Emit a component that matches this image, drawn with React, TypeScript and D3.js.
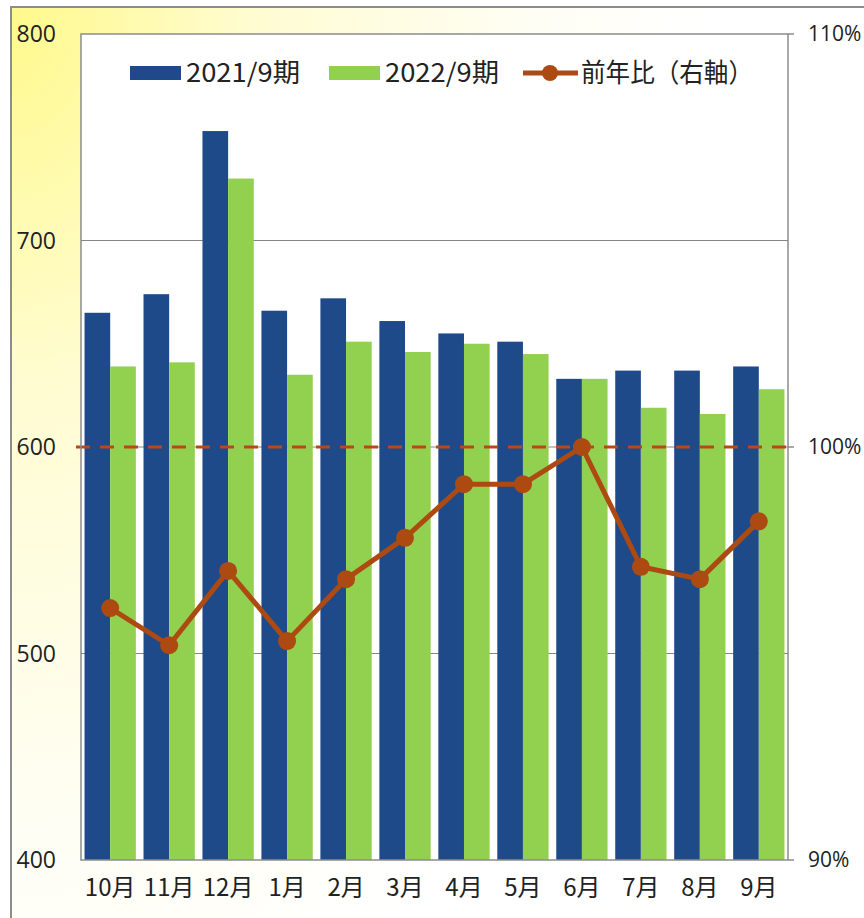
import React from "react";
import * as d3 from "d3";

const months = ["10月", "11月", "12月", "1月", "2月", "3月", "4月", "5月", "6月", "7月", "8月", "9月"];
const series2021 = [665, 674, 753, 666, 672, 661, 655, 651, 633, 637, 637, 639];
const series2022 = [639, 641, 730, 635, 651, 646, 650, 645, 633, 619, 616, 628];
const ratio = [96.1, 95.2, 97.0, 95.3, 96.8, 97.8, 99.1, 99.1, 100.0, 97.1, 96.8, 98.2];
const leftTicks = [400, 500, 600, 700, 800];
const rightTicks = [90, 100, 110];
const seriesNames = ["2021/9期", "2022/9期", "前年比（右軸）"];

const W = 864;
const H = 918;
const plot = { left: 81, right: 788, top: 34, bottom: 860 };
const BLUE = "#1F4A8A";
const GREEN = "#92D050";
const LINE = "#AC4A12";
const DASH = "#B8471A";
const FONT = "'Open Sans', 'Noto Sans CJK JP', sans-serif";
const JFONT = "'Noto Sans CJK JP', 'Open Sans', sans-serif";

export default function App() {
  const x = d3.scaleBand<string>().domain(months).range([plot.left, plot.right]).paddingInner(0.13).paddingOuter(0.06);
  const sub = d3.scaleBand<string>().domain(["a", "b"]).range([0, x.bandwidth()]).padding(0);
  const yL = d3.scaleLinear().domain([400, 800]).range([plot.bottom, plot.top]);
  const yR = d3.scaleLinear().domain([90, 110]).range([plot.bottom, plot.top]);
  const cx = (m: string) => (x(m) as number) + x.bandwidth() / 2;
  const line = d3.line<number>().x((_, i) => cx(months[i])).y((d) => yR(d));

  return (
    <svg width={W} height={H} style={{ position: "absolute", left: 0, top: 0 }} fontFamily={FONT}>
      <defs>
        <radialGradient id="bg" cx="0" cy="0" r="1" gradientUnits="userSpaceOnUse" gradientTransform="translate(11,7) scale(700,1100)">
          <stop offset="0" stopColor="#FFF98A" />
          <stop offset="0.35" stopColor="#FFFCD2" />
          <stop offset="0.75" stopColor="#FFFEF4" />
          <stop offset="1" stopColor="#FFFFFF" />
        </radialGradient>
      </defs>
      <rect x={0} y={0} width={W} height={H} fill="#fff" />
      <rect x={11} y={7} width={W + 10} height={H + 10} fill="url(#bg)" stroke="#8C8C8C" strokeWidth={2} />
      <rect x={plot.left} y={plot.top} width={plot.right - plot.left} height={plot.bottom - plot.top} fill="#fff" />
      {leftTicks.slice(1, 4).map((t) => (
        <line key={t} x1={plot.left} x2={plot.right} y1={yL(t)} y2={yL(t)} stroke="#868686" strokeWidth={1.2} />
      ))}
      {months.map((m, i) => (
        <g key={m}>
          <rect x={(x(m) as number) + (sub("a") as number)} y={yL(series2021[i])} width={sub.bandwidth()} height={yL(400) - yL(series2021[i])} fill={BLUE} />
          <rect x={(x(m) as number) + (sub("b") as number)} y={yL(series2022[i])} width={sub.bandwidth()} height={yL(400) - yL(series2022[i])} fill={GREEN} />
        </g>
      ))}
      <line x1={76} x2={plot.right} y1={yR(100)} y2={yR(100)} stroke={DASH} strokeWidth={3} strokeDasharray="14,10" />
      <rect x={plot.left} y={plot.top} width={plot.right - plot.left} height={plot.bottom - plot.top} fill="none" stroke="#8C8C8C" strokeWidth={1.5} />
      {rightTicks.map((t) => (
        <line key={t} x1={plot.right} x2={plot.right + 6} y1={yR(t)} y2={yR(t)} stroke="#8C8C8C" strokeWidth={1.5} />
      ))}
      <path d={line(ratio) as string} fill="none" stroke={LINE} strokeWidth={5} strokeLinejoin="round" />
      {ratio.map((r, i) => (
        <circle key={i} cx={cx(months[i])} cy={yR(r)} r={9} fill={LINE} />
      ))}
      {leftTicks.map((t) => (
        <text key={t} x={56} y={yL(t)} dy="0.35em" textAnchor="end" fontSize={23} fill="#222">{t}</text>
      ))}
      {rightTicks.map((t) => (
        <text key={t} x={808} y={yR(t)} dy="0.35em" textAnchor="start" fontSize={21} fill="#222">{t}%</text>
      ))}
      {months.map((m) => (
        <text key={m} x={cx(m)} y={888} dy="0.35em" textAnchor="middle" fontSize={24} fontFamily={JFONT} fill="#222">{m}</text>
      ))}
      <g fontFamily={JFONT} fontSize={26} fill="#222">
        <rect x={130} y={66} width={51} height={14} fill={BLUE} />
        <text x={186} y={73} dy="0.35em" textLength={114} lengthAdjust="spacingAndGlyphs">{seriesNames[0]}</text>
        <rect x={329} y={66} width={51} height={14} fill={GREEN} />
        <text x={385} y={73} dy="0.35em" textLength={114} lengthAdjust="spacingAndGlyphs">{seriesNames[1]}</text>
        <line x1={523} x2={578} y1={73} y2={73} stroke={LINE} strokeWidth={5} />
        <circle cx={550} cy={73} r={8} fill={LINE} />
        <text x={581} y={73} dy="0.35em" textLength={172} lengthAdjust="spacingAndGlyphs">{seriesNames[2]}</text>
      </g>
    </svg>
  );
}
